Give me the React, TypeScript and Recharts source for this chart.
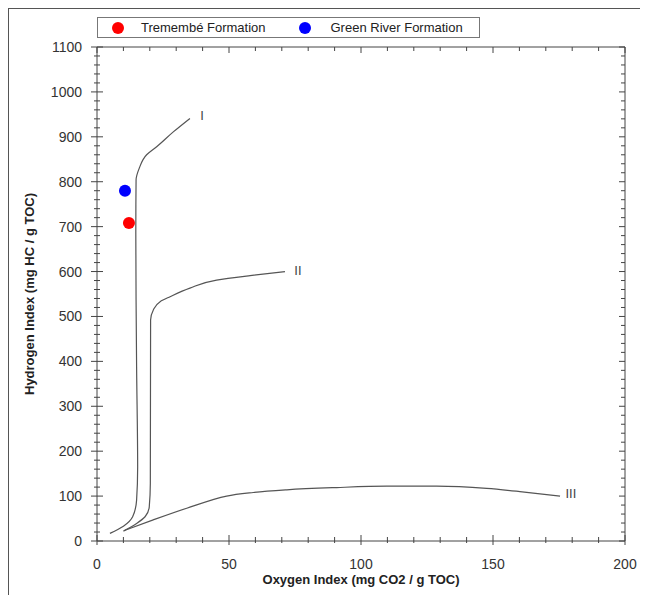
import React from 'react';
import { ComposedChart, Line, Scatter, XAxis, YAxis, Legend, Label } from 'recharts';

const FONT = '"Liberation Sans", Arial, Helvetica, sans-serif';
const AXIS = '#444';
const CURVE = '#555';

// evolution paths, oxygen index (x) against hydrogen index (y)
const typeIOxygen = [4.9, 10, 13.5, 15, 15.4, 15.0, 14.8, 14.7, 14.8, 16, 18.8, 22.6, 28.9, 35.2];
const typeIHydrogen = [17, 33, 54, 91, 165, 388, 537, 686, 804, 830, 860, 878, 911, 941];

const typeIIOxygen = [10, 15, 18.2, 19.8, 20.2, 20.3, 21.3, 23.9, 27.7, 35.2, 45.3, 58, 71.2];
const typeIIHydrogen = [22, 39, 54, 76, 128, 492, 514, 533, 544, 563, 581, 591, 600];

const typeIIIOxygen = [10.6, 21.3, 34, 49.1, 59.2, 71.9, 90.8, 109.7, 128.7, 147.6, 160.2, 175.4];
const typeIIIHydrogen = [24, 47, 73, 100, 108, 114, 119, 122, 122, 117, 110, 100];

const curveLabels = ['I', 'II', 'III'];
const curveLabelOxygen = [39.8, 76.1, 179.5];
const curveLabelHydrogen = [949, 604, 106];

// samples
const sampleNames = ['Tremembé Formation', 'Green River Formation'];
const sampleOxygen = [12.1, 10.6];
const sampleHydrogen = [708, 780];
const sampleColors = ['#ff0000', '#0000ff'];

// axes
const xMajorTicks = [0, 50, 100, 150, 200];
const yMajorTicks = [0, 100, 200, 300, 400, 500, 600, 700, 800, 900, 1000, 1100];
const xTicks = Array.from({ length: 21 }, (_, i) => i * 10);
const yTicks = Array.from({ length: 56 }, (_, i) => i * 20);

const toPoints = (xs: number[], ys: number[]) => xs.map((x, i) => ({ x, y: ys[i] }));

const curveI = toPoints(typeIOxygen, typeIHydrogen);
const curveII = toPoints(typeIIOxygen, typeIIHydrogen);
const curveIII = toPoints(typeIIIOxygen, typeIIIHydrogen);
const labelPoints = curveLabels.map((name, i) => ({ name, x: curveLabelOxygen[i], y: curveLabelHydrogen[i] }));

const BottomTick = (props: any) => {
    const { x, y, payload } = props;
    const major = xMajorTicks.includes(payload.value);
    return (
        <g>
            <line x1={x} x2={x} y1={y - (major ? 6 : 4)} y2={y + (major ? 4 : 2)} stroke={AXIS} strokeWidth={1} />
            {major && (
                <text x={x} y={y + 28} textAnchor="middle" fontSize={14} fill="#333" fontFamily={FONT}>
                    {payload.value}
                </text>
            )}
        </g>
    );
};

const LeftTick = (props: any) => {
    const { x, y, payload } = props;
    const major = yMajorTicks.includes(payload.value);
    return (
        <g>
            <line x1={x - (major ? 6 : 3)} x2={x + (major ? 6 : 3)} y1={y} y2={y} stroke={AXIS} strokeWidth={1} />
            {major && (
                <text x={x - 15} y={y + 5} textAnchor="end" fontSize={14} fill="#333" fontFamily={FONT}>
                    {payload.value}
                </text>
            )}
        </g>
    );
};

const TopTick = (props: any) => {
    const { x, y, payload } = props;
    const major = xMajorTicks.includes(payload.value);
    return <line x1={x} x2={x} y1={y} y2={y + (major ? 6 : 4)} stroke={AXIS} strokeWidth={1} />;
};

const RightTick = (props: any) => {
    const { x, y, payload } = props;
    const major = yMajorTicks.includes(payload.value);
    return <line x1={x - (major ? 6 : 4)} x2={x} y1={y} y2={y} stroke={AXIS} strokeWidth={1} />;
};

const Dot = (color: string) => (props: any) => (
    <circle cx={props.cx} cy={props.cy} r={6} fill={color} />
);

const CurveLabel = (props: any) => (
    <text x={props.cx} y={props.cy + 5} textAnchor="middle" fontSize={13} fill="#444" fontFamily={FONT}>
        {props.payload.name}
    </text>
);

const LegendBox = () => (
    <div
        style={{
            width: 383,
            height: 21,
            boxSizing: 'border-box',
            border: '1px solid #777',
            display: 'flex',
            alignItems: 'center',
            paddingLeft: 14,
            fontFamily: FONT,
            fontSize: 13,
            color: '#222',
            background: '#fff',
            whiteSpace: 'nowrap',
            lineHeight: '15px',
        }}
    >
        {sampleNames.map((name, i) => (
            <div key={name} style={{ display: 'flex', alignItems: 'center', flexShrink: 0, marginRight: 33 }}>
                <span style={{ width: 12, height: 12, borderRadius: 6, background: sampleColors[i], display: 'inline-block', flexShrink: 0 }} />
                <span style={{ marginLeft: i === 0 ? 17 : 20, whiteSpace: 'nowrap' }}>{name}</span>
            </div>
        ))}
    </div>
);

export default function App() {
    return (
        <div
            style={{
                position: 'relative',
                width: 634,
                height: 586,
                borderTop: '1px solid #555',
                borderLeft: '1px solid #555',
                borderRight: '1px solid #ccc',
                background: '#fff',
            }}
        >
            <ComposedChart width={634} height={586} margin={{ top: 8, right: 0, bottom: 4, left: 8 }}>
                <XAxis
                    dataKey="x"
                    type="number"
                    domain={[0, 200]}
                    ticks={xTicks}
                    interval={0}
                    allowDataOverflow
                    height={50}
                    tickSize={0}
                    tickMargin={0}
                    tickLine={false}
                    axisLine={{ stroke: AXIS }}
                    tick={<BottomTick />}
                >
                    <Label
                        content={(p: any) => {
                            const vb = p.viewBox || { x: 88, y: 532, width: 528, height: 50 };
                            return (
                                <text x={vb.x + vb.width / 2} y={vb.y + 43} textAnchor="middle" fontSize={13} fontWeight="bold" fill="#222" fontFamily={FONT}>
                                    Oxygen Index (mg CO2 / g TOC)
                                </text>
                            );
                        }}
                    />
                </XAxis>
                <XAxis
                    xAxisId="top"
                    orientation="top"
                    dataKey="x"
                    type="number"
                    domain={[0, 200]}
                    ticks={xTicks}
                    interval={0}
                    allowDataOverflow
                    height={30}
                    tickSize={0}
                    tickMargin={0}
                    tickLine={false}
                    axisLine={{ stroke: AXIS }}
                    tick={<TopTick />}
                />
                <YAxis
                    dataKey="y"
                    type="number"
                    domain={[0, 1100]}
                    ticks={yTicks}
                    interval={0}
                    allowDataOverflow
                    width={80}
                    tickSize={0}
                    tickMargin={0}
                    tickLine={false}
                    axisLine={{ stroke: AXIS }}
                    tick={<LeftTick />}
                >
                    <Label
                        content={(p: any) => {
                            const vb = p.viewBox || { x: 8, y: 38, width: 80, height: 494 };
                            const cx = vb.x + vb.width - 63;
                            const cy = vb.y + vb.height / 2;
                            return (
                                <text x={cx} y={cy} transform={`rotate(-90 ${cx} ${cy})`} textAnchor="middle" fontSize={13} fontWeight="bold" fill="#222" fontFamily={FONT}>
                                    Hydrogen Index (mg HC / g TOC)
                                </text>
                            );
                        }}
                    />
                </YAxis>
                <YAxis
                    yAxisId="right"
                    orientation="right"
                    dataKey="y"
                    type="number"
                    domain={[0, 1100]}
                    ticks={yTicks}
                    interval={0}
                    allowDataOverflow
                    width={18}
                    tickSize={0}
                    tickMargin={0}
                    tickLine={false}
                    axisLine={{ stroke: AXIS }}
                    tick={<RightTick />}
                />
                <Legend
                    layout="horizontal"
                    verticalAlign="middle"
                    align="center"
                    wrapperStyle={{ top: 8, left: 88, width: 383, height: 21 }}
                    content={<LegendBox />}
                />
                <Line data={curveI} dataKey="y" type="monotoneY" stroke={CURVE} strokeWidth={1.2} dot={false} activeDot={false} legendType="none" isAnimationActive={false} />
                <Line data={curveII} dataKey="y" type="monotoneY" stroke={CURVE} strokeWidth={1.2} dot={false} activeDot={false} legendType="none" isAnimationActive={false} />
                <Line data={curveIII} dataKey="y" type="monotoneX" stroke={CURVE} strokeWidth={1.2} dot={false} activeDot={false} legendType="none" isAnimationActive={false} />
                <Scatter data={labelPoints} dataKey="y" shape={CurveLabel} legendType="none" isAnimationActive={false} />
                {sampleNames.map((name, i) => (
                    <Scatter
                        key={name}
                        name={name}
                        data={[{ x: sampleOxygen[i], y: sampleHydrogen[i] }]}
                        dataKey="y"
                        fill={sampleColors[i]}
                        shape={Dot(sampleColors[i])}
                        isAnimationActive={false}
                    />
                ))}
            </ComposedChart>
        </div>
    );
}
